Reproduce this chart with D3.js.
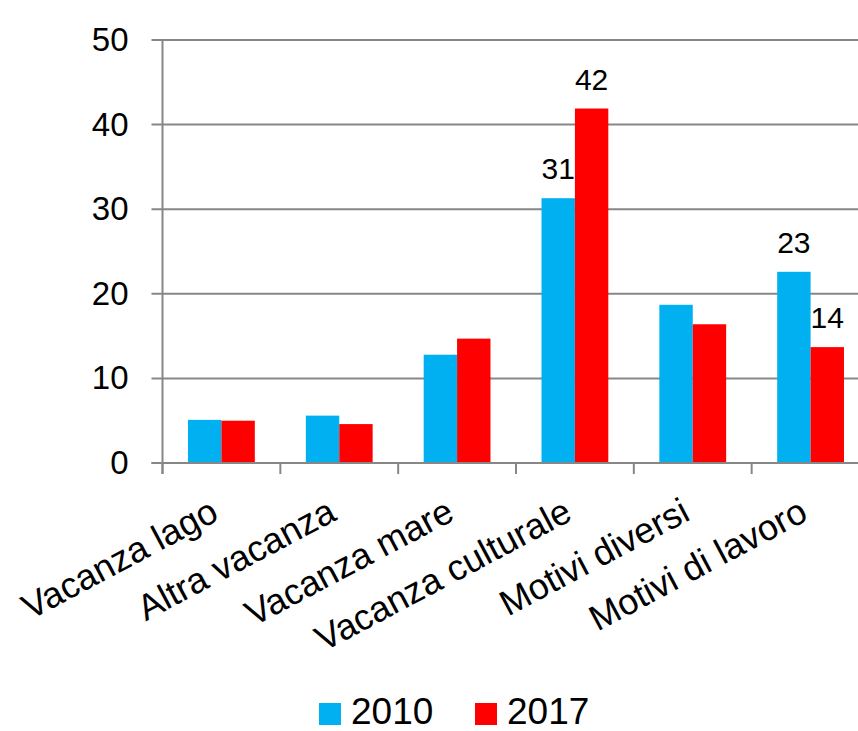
<!DOCTYPE html>
<html lang="it">
<head>
  <meta charset="UTF-8">
  <title>Motivi del viaggio 2010 / 2017</title>
  <script src="https://cdn.jsdelivr.net/npm/d3@7"></script>
  <style>
    body { margin: 0; background: #fff; }
    svg { display: block; font-family: "Liberation Sans", Arial, sans-serif; }
  </style>
</head>
<body>
  <script>
    // data
    var categories = ["Vacanza lago", "Altra vacanza", "Vacanza mare", "Vacanza culturale", "Motivi diversi", "Motivi di lavoro"];
    var series = ["2010", "2017"];
    var values2010 = [5.1, 5.6, 12.8, 31.3, 18.7, 22.6];
    var values2017 = [5.0, 4.6, 14.7, 41.9, 16.4, 13.7];
    // data labels that are shown (null = no label)
    var labels2010 = [null, null, null, "31", null, "23"];
    var labels2017 = [null, null, null, "42", null, "14"];
    var yTicks = [0, 10, 20, 30, 40, 50];
    var colors = ["#00B0F0", "#FF0000"];

    var width = 858, height = 731;
    var svg = d3.select("body").append("svg")
      .attr("width", width)
      .attr("height", height);

    // scales
    var xCat = d3.scaleBand()
      .domain(categories)
      .range([162.5, 869.5])
      .padding(0);

    var xSub = d3.scaleBand()
      .domain(series)
      .range([0, xCat.bandwidth()])
      .paddingInner(0)
      .paddingOuter(0.764);

    var y = d3.scaleLinear()
      .domain([0, 50])
      .range([463, 40]);

    /* GRID */
    svg.append("g").selectAll("line")
      .data(yTicks)
      .enter()
      .append("line")
      .attr("x1", 151.5)
      .attr("x2", width)
      .attr("y1", d => y(d))
      .attr("y2", d => y(d))
      .attr("stroke", "#878787")
      .attr("stroke-width", 2);

    /* Y AXIS */
    var axisY = d3.axisLeft(y)
      .tickValues(yTicks)
      .tickSize(0)
      .tickPadding(34);

    var gy = svg.append("g")
      .attr("transform", "translate(162.5,0)")
      .call(axisY);
    gy.select(".domain").remove();
    gy.selectAll("text")
      .attr("font-size", 33)
      .attr("fill", "#000")
      .attr("font-family", "Liberation Sans, Arial, sans-serif");

    svg.append("line")
      .attr("x1", 162.5).attr("x2", 162.5)
      .attr("y1", y(50)).attr("y2", y(0) + 11)
      .attr("stroke", "#878787")
      .attr("stroke-width", 2);

    /* BARS */
    var groups = svg.append("g").selectAll("g")
      .data(categories)
      .enter()
      .append("g")
      .attr("transform", d => "translate(" + xCat(d) + ",0)");

    groups.selectAll("rect")
      .data((d, i) => [
        {s: "2010", v: values2010[i], c: colors[0]},
        {s: "2017", v: values2017[i], c: colors[1]}
      ])
      .enter()
      .append("rect")
      .attr("x", d => xSub(d.s))
      .attr("y", d => y(d.v))
      .attr("width", xSub.bandwidth())
      .attr("height", d => y(0) - y(d.v))
      .attr("fill", d => d.c);

    // x axis line over the bars' base, ticks at category boundaries
    svg.append("line")
      .attr("x1", 151.5).attr("x2", width)
      .attr("y1", y(0)).attr("y2", y(0))
      .attr("stroke", "#878787")
      .attr("stroke-width", 2);

    svg.append("g").selectAll("line")
      .data(categories)
      .enter()
      .append("line")
      .attr("x1", d => xCat(d))
      .attr("x2", d => xCat(d))
      .attr("y1", y(0))
      .attr("y2", y(0) + 11)
      .attr("stroke", "#878787")
      .attr("stroke-width", 2);

    /* DATA LABELS */
    groups.selectAll("text.val")
      .data((d, i) => [
        {s: "2010", v: values2010[i], t: labels2010[i]},
        {s: "2017", v: values2017[i], t: labels2017[i]}
      ].filter(e => e.t !== null))
      .enter()
      .append("text")
      .attr("class", "val")
      .attr("x", d => xSub(d.s) + xSub.bandwidth() / 2)
      .attr("y", d => y(d.v) - 19)
      .attr("text-anchor", "middle")
      .attr("font-size", 30)
      .attr("fill", "#000")
      .text(d => d.t);

    /* CATEGORY LABELS */
    svg.append("g").selectAll("text")
      .data(categories)
      .enter()
      .append("text")
      .attr("transform", d => "translate(" + (xCat(d) + xCat.bandwidth() / 2 - 1) + ",519) rotate(-28)")
      .attr("text-anchor", "end")
      .attr("font-size", 36)
      .attr("fill", "#000")
      .text(d => d);

    /* LEGEND */
    var legendX = [319, 475];
    var legend = svg.append("g").selectAll("g")
      .data(series)
      .enter()
      .append("g")
      .attr("transform", (d, i) => "translate(" + legendX[i] + ",703)");

    legend.append("rect")
      .attr("width", 22)
      .attr("height", 22)
      .attr("fill", (d, i) => colors[i]);

    legend.append("text")
      .attr("x", 32)
      .attr("y", 21)
      .attr("font-size", 37)
      .attr("fill", "#000")
      .text(d => d);
  </script>
</body>
</html>
